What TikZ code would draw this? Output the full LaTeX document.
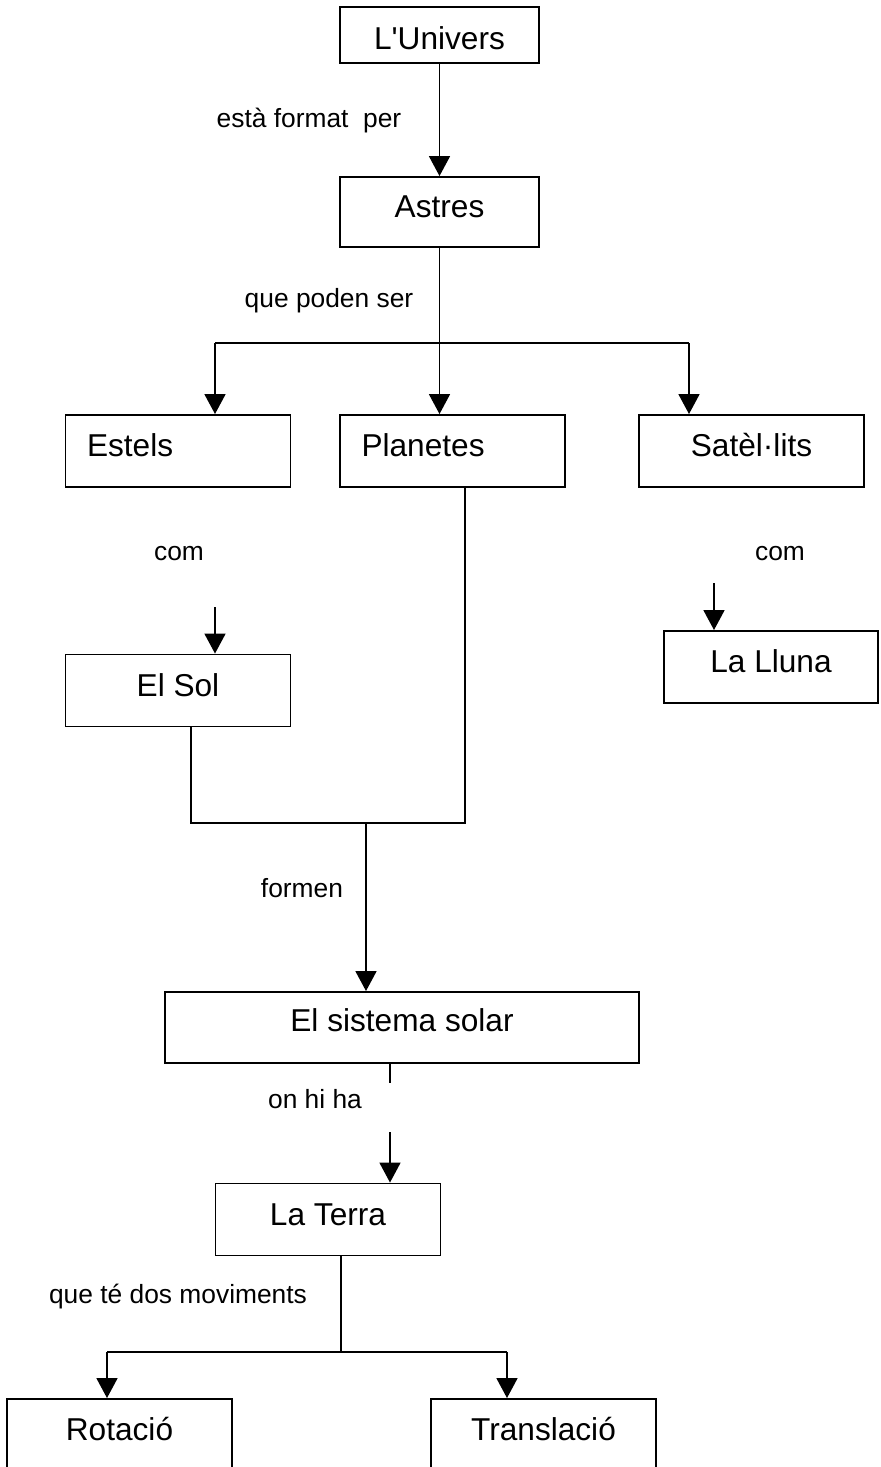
\documentclass[tikz,border=0pt]{standalone}
\usepackage{fontspec}
\setmainfont{Liberation Sans}
\usetikzlibrary{arrows.meta, positioning}

\begin{document}
\begin{tikzpicture}[
  x=0.02cm, y=-0.02cm,
  caixa/.style={draw, line width=1.1pt, inner xsep=0pt, inner ysep=0pt,
    minimum width=4.5cm, text height=0.83cm, text depth=0.61cm,
    font=\fontsize{18}{20}\selectfont},
  lbl/.style={anchor=base, font=\fontsize{15}{17}\selectfont},
  lin/.style={line width=1pt},
  arr/.style={lin, -{Triangle[length=0.4cm, width=0.42cm]}}
]
\useasboundingbox (0,0) rectangle (880,1467);

% ---------- Top: univers and astres ----------
\node[caixa, minimum width=3.98cm, text height=0.85cm, text depth=0.27cm] (univers) at (439.5,35) {L\textquotesingle Univers};
\node[caixa, minimum width=3.98cm, text height=0.81cm, text depth=0.59cm] (astres) at (439.5,212) {Astres};

% ---------- Three kinds of astres ----------
\node[caixa, text width=3.64cm, inner xsep=0.43cm, align=left] (estels) at (178,451) {Estels};
\node[caixa, text width=3.64cm, inner xsep=0.43cm, align=left] (planetes) at (452.5,451) {Planetes};
\node[caixa] (satel) at (751.5,451) {Satèl·lits};

% ---------- Examples ----------
\node[caixa] (sol) at (178,690.5) {El Sol};
\node[caixa, minimum width=4.28cm] (lluna) at (771,667) {La Lluna};

% ---------- Solar system and earth ----------
\node[caixa, minimum width=9.48cm, text height=0.79cm, text depth=0.63cm] (sistema) at (402,1027.5) {El sistema solar};
\node[caixa] (terra) at (328,1219.5) {La Terra};
\node[caixa] (rotacio) at (119.5,1435) {Rotació};
\node[caixa] (translacio) at (543.5,1435) {Translació};

% ---------- Junction points ----------
\coordinate (jAstres) at (439.5,343);
\coordinate (jEstels) at (215,343);
\coordinate (jSatel) at (689,343);
\coordinate (comSol) at (215,607);
\coordinate (comLluna) at (714,583);
\coordinate (jSolA) at (191,823);
\coordinate (jSolB) at (465,823);
\coordinate (jFormen) at (366,823);
\coordinate (stub) at (390,1083);
\coordinate (onHiHa) at (390,1132);
\coordinate (jTerra) at (341,1352);
\coordinate (jRot) at (107,1352);
\coordinate (jTrans) at (507,1352);

% ---------- Connectors ----------
\draw[arr] (univers) -- (astres);
\draw[lin] (astres) -- (jAstres);
\draw[lin] (jEstels) -- (jSatel);
\draw[arr] (jEstels) -- (jEstels |- estels.north);
\draw[arr] (jAstres) -- (jAstres |- planetes.north);
\draw[arr] (jSatel) -- (jSatel |- satel.north);
\draw[arr] (comSol) -- (comSol |- sol.north);
\draw[arr] (comLluna) -- (comLluna |- lluna.north);
\draw[lin] (jSolA |- sol.south) -- (jSolA) -- (jSolB) -- (jSolB |- planetes.south);
\draw[arr] (jFormen) -- (jFormen |- sistema.north);
\draw[lin] (stub |- sistema.south) -- (stub);
\draw[arr] (onHiHa) -- (onHiHa |- terra.north);
\draw[lin] (jTerra |- terra.south) -- (jTerra);
\draw[lin] (jRot) -- (jTrans);
\draw[arr] (jRot) -- (jRot |- rotacio.north);
\draw[arr] (jTrans) -- (jTrans |- translacio.north);

% ---------- Labels ----------
\node[lbl] (lFormat) at (309,127) {està format\ \ per};
\node[lbl] (lPoden) at (329,307) {que poden ser};
\node[lbl] (lComSol) at (179,560) {com};
\node[lbl] (lComLluna) at (780,560) {com};
\node[lbl] (lFormen) at (302,897) {formen};
\node[lbl] (lOnHiHa) at (315,1108) {on hi ha};
\node[lbl] (lMoviments) at (178,1303) {que té dos moviments};

\end{tikzpicture}
\end{document}
